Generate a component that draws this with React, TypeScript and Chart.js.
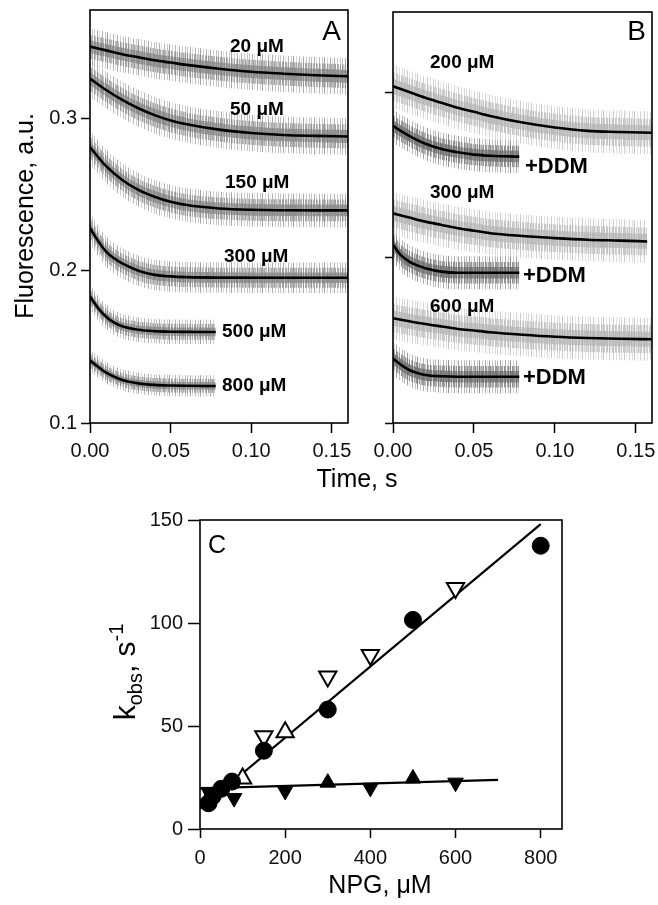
import React, { useEffect, useRef } from 'react';
import { Chart, registerables } from 'chart.js';

Chart.register(...registerables);

const FAMILY = '"Liberation Sans", Arial, Helvetica, sans-serif';

// ---------- Panels A & B: time grids (s) ----------
const T_LONG = [0, 0.01, 0.02, 0.03, 0.04, 0.05, 0.06, 0.08, 0.1, 0.12, 0.14, 0.16];
const T_FAST = [0, 0.005, 0.01, 0.015, 0.02, 0.03, 0.04, 0.05, 0.06, 0.08, 0.12, 0.16];
const T_LONG_B300 = [0, 0.01, 0.02, 0.03, 0.04, 0.05, 0.06, 0.08, 0.1, 0.12, 0.14, 0.157];
const T_SHORT = [0, 0.005, 0.01, 0.015, 0.02, 0.03, 0.04, 0.05, 0.06, 0.078];

// Panel A fitted curves (fluorescence, a.u.)
const A_FIT_20 = [0.347, 0.3445, 0.342, 0.34, 0.338, 0.3365, 0.335, 0.3325, 0.3305, 0.3292, 0.3282, 0.3275];
const A_FIT_50 = [0.326, 0.3185, 0.312, 0.3065, 0.302, 0.2985, 0.296, 0.2925, 0.2903, 0.289, 0.2884, 0.288];
const A_FIT_150 = [0.281, 0.2685, 0.2595, 0.253, 0.2485, 0.2452, 0.243, 0.2408, 0.2399, 0.2396, 0.2395, 0.2395];
const A_FIT_300 = [0.228, 0.2195, 0.2125, 0.208, 0.2047, 0.1999, 0.1972, 0.1962, 0.1957, 0.1954, 0.1953, 0.1953];
const A_FIT_500 = [0.183, 0.1755, 0.1697, 0.1658, 0.1635, 0.1612, 0.1603, 0.1599, 0.1598, 0.1597];
const A_FIT_800 = [0.141, 0.1369, 0.133, 0.1304, 0.1282, 0.126, 0.125, 0.1246, 0.1244, 0.1243];
// half-width of the noisy recorded trace around each fit
const A_NOISE = [0.012, 0.012, 0.011, 0.01, 0.008, 0.007];
const A_LABELS = ['20 μM', '50 μM', '150 μM', '300 μM', '500 μM', '800 μM'];

// Panel B fitted curves (arbitrary fluorescence units, own scale)
const B_FIT_200 = [0.304, 0.3005, 0.297, 0.294, 0.291, 0.2885, 0.286, 0.282, 0.279, 0.277, 0.2763, 0.2758];
const B_FIT_200_DDM = [0.28, 0.2768, 0.274, 0.2714, 0.2692, 0.266, 0.264, 0.2626, 0.2619, 0.2614];
const B_FIT_300 = [0.227, 0.2245, 0.222, 0.22, 0.218, 0.2165, 0.215, 0.2133, 0.212, 0.211, 0.2105, 0.21];
const B_FIT_300_DDM = [0.208, 0.2015, 0.1978, 0.1955, 0.1938, 0.1917, 0.191, 0.191, 0.191, 0.191];
const B_FIT_600 = [0.1635, 0.1617, 0.16, 0.1585, 0.157, 0.156, 0.155, 0.1535, 0.1523, 0.1515, 0.151, 0.1507];
const B_FIT_600_DDM = [0.139, 0.1352, 0.1321, 0.1303, 0.1291, 0.1283, 0.128, 0.128, 0.128, 0.128];
const B_NOISE_LIGHT = 0.013;
const B_NOISE_DARK = 0.01;
const B_LABELS = ['200 μM', '300 μM', '600 μM'];
const DDM_LABEL = '+DDM';

const TIME_TICKS = [0, 0.05, 0.1, 0.15];
const A_Y_TICKS = [0.1, 0.2, 0.3];
const B_Y_TICKS = [0.1, 0.2, 0.3];

// ---------- Panel C: kobs vs NPG ----------
const C_CIRCLE_X = [20, 30, 50, 75, 150, 300, 500, 800];
const C_CIRCLE_Y = [12.5, 16, 19.5, 23, 38, 58, 101.5, 137.5];
const C_OPEN_DOWN_X = [150, 300, 400, 600];
const C_OPEN_DOWN_Y = [45, 74, 84.5, 117];
const C_OPEN_UP_X = [100, 200];
const C_OPEN_UP_Y = [24.5, 47];
const C_FILLED_UP_X = [300, 500];
const C_FILLED_UP_Y = [22.5, 24.5];
const C_FILLED_DOWN_X = [20, 80, 200, 400, 600];
const C_FILLED_DOWN_Y = [18, 15, 18.5, 20, 22.5];
const C_FIT_HIGH_X = [0, 800];
const C_FIT_HIGH_Y = [9.7, 148];
const C_FIT_LOW_X = [0, 700];
const C_FIT_LOW_Y = [19.7, 23.8];
const C_X_TICKS = [0, 200, 400, 600, 800];
const C_Y_TICKS = [0, 50, 100, 150];

// texture of the noisy traces (style only): per-column opacity for three nested bands
const TEX_OUTER = [0, 0.6, 0, 0, 0.8, 0, 0.3, 0, 0, 0.7, 0, 0, 0.5, 0, 0.9, 0, 0, 0.4, 0, 0, 0.7, 0, 0.2, 0, 0.8, 0, 0, 0.5, 0, 0, 0.6];
const TEX_MID = [0.7, 0.2, 0.9, 0, 0.6, 0.8, 0.1, 0.7, 0, 0.9, 0.5, 0.3, 0.8, 0, 0.6, 0.9, 0.2, 0.7, 0.4, 0, 0.8, 0.6, 0.1, 0.9, 0.5, 0, 0.7, 0.8, 0.3, 0.6, 0, 0.9, 0.4, 0.7, 0.2, 0.8, 0.5];
const TEX_INNER = [0.9, 0.7, 1, 0.6, 0.85, 0.95, 0.5, 0.8, 1, 0.65, 0.9, 0.75, 0.55, 1, 0.8, 0.7, 0.95, 0.6, 0.85, 1, 0.7, 0.9, 0.5, 0.8, 0.95, 0.65, 1, 0.75, 0.85, 0.6, 0.9, 1, 0.7, 0.8, 0.55, 0.95, 0.75, 0.9, 0.65, 1, 0.8];

function makePattern(tex: number[], gray: number, aMax: number): any {
  const c = document.createElement('canvas');
  c.width = tex.length;
  c.height = 4;
  const g = c.getContext('2d');
  if (!g) return `rgba(${gray},${gray},${gray},${aMax * 0.6})`;
  tex.forEach((s, i) => {
    g.fillStyle = `rgba(${gray},${gray},${gray},${s * aMax})`;
    g.fillRect(i, 0, 1, 4);
  });
  return g.createPattern(c, 'repeat');
}

type Tex = { outer: any; mid: any; inner: any };

function traceSets(xs: number[], fit: number[], w: number, tex: Tex) {
  const pts = (d: number) => xs.map((x, i) => ({ x, y: fit[i] + d }));
  const common = { pointRadius: 0, borderWidth: 0, cubicInterpolationMode: 'monotone' as const };
  return [
    { ...common, data: pts(w), fill: '+1', backgroundColor: tex.outer, order: 3 },
    { ...common, data: pts(-w), fill: false, order: 3 },
    { ...common, data: pts(w * 0.65), fill: '+1', backgroundColor: tex.mid, order: 2 },
    { ...common, data: pts(-w * 0.65), fill: false, order: 2 },
    { ...common, data: pts(w * 0.35), fill: '+1', backgroundColor: tex.inner, order: 1 },
    { ...common, data: pts(-w * 0.35), fill: false, order: 1 },
    {
      data: pts(0),
      borderColor: '#000',
      borderWidth: 2.6,
      pointRadius: 0,
      fill: false,
      order: 0,
      cubicInterpolationMode: 'monotone' as const,
    },
  ];
}

type TextSpec = {
  text?: string;
  parts?: { t: string; size: number; dy: number }[];
  x: number;
  y: number;
  size?: number;
  bold?: boolean;
  align?: CanvasTextAlign;
  baseline?: CanvasTextBaseline;
  rotate?: boolean;
};

function makeDecor(texts: TextSpec[]) {
  return {
    id: 'decor',
    afterDraw(chart: any) {
      const ctx: CanvasRenderingContext2D = chart.ctx;
      const a = chart.chartArea;
      ctx.save();
      ctx.strokeStyle = '#000';
      ctx.lineWidth = 1.6;
      ctx.strokeRect(a.left, a.top, a.right - a.left, a.bottom - a.top);
      ctx.fillStyle = '#000';
      for (const t of texts) {
        ctx.save();
        ctx.translate(t.x, t.y);
        if (t.rotate) ctx.rotate(-Math.PI / 2);
        if (t.parts) {
          let total = 0;
          for (const p of t.parts) {
            ctx.font = `${p.size}px ${FAMILY}`;
            total += ctx.measureText(p.t).width;
          }
          let cx = -total / 2;
          ctx.textAlign = 'left';
          ctx.textBaseline = 'alphabetic';
          for (const p of t.parts) {
            ctx.font = `${p.size}px ${FAMILY}`;
            ctx.fillText(p.t, cx, p.dy);
            cx += ctx.measureText(p.t).width;
          }
        } else {
          ctx.font = `${t.bold ? 'bold ' : ''}${t.size}px ${FAMILY}`;
          ctx.textAlign = t.align ?? 'left';
          ctx.textBaseline = t.baseline ?? 'alphabetic';
          ctx.fillText(t.text ?? '', 0, 0);
        }
        ctx.restore();
      }
      ctx.restore();
    },
  };
}

const tickFont = { family: FAMILY, size: 20 };

function axis(min: number, max: number, ticks: number[], fmt: (v: number) => string, tickLen: number, fit: (s: any) => void, pad: number) {
  return {
    type: 'linear' as const,
    min,
    max,
    afterBuildTicks: (s: any) => {
      s.ticks = ticks.map((v) => ({ value: v }));
    },
    afterFit: (s: any) => {
      fit(s);
      s.paddingLeft = 0;
      s.paddingRight = 0;
      s.paddingTop = 0;
      s.paddingBottom = 0;
    },
    ticks: {
      font: tickFont,
      color: '#111',
      padding: pad,
      maxRotation: 0,
      autoSkip: false,
      callback: (v: any) => fmt(Number(v)),
    },
    grid: { drawOnChartArea: false, drawTicks: true, tickLength: tickLen, tickColor: '#000', tickWidth: 1.5 },
    border: { display: false },
  };
}

const basePlugins = { legend: { display: false }, tooltip: { enabled: false } };

export default function App() {
  const refA = useRef<HTMLCanvasElement>(null);
  const refB = useRef<HTMLCanvasElement>(null);
  const refC = useRef<HTMLCanvasElement>(null);

  useEffect(() => {
    const charts: Chart[] = [];
    const texA: Tex = { outer: makePattern(TEX_OUTER, 135, 0.85), mid: makePattern(TEX_MID, 132, 0.85), inner: makePattern(TEX_INNER, 130, 0.85) };
    const texL: Tex = { outer: makePattern(TEX_OUTER, 185, 0.9), mid: makePattern(TEX_MID, 182, 0.9), inner: makePattern(TEX_INNER, 180, 0.85) };
    const texD: Tex = { outer: makePattern(TEX_OUTER, 115, 0.85), mid: makePattern(TEX_MID, 110, 0.85), inner: makePattern(TEX_INNER, 105, 0.85) };

    // ---- Panel A ----
    const aFits = [A_FIT_20, A_FIT_50, A_FIT_150, A_FIT_300, A_FIT_500, A_FIT_800];
    const aXs = [T_LONG, T_LONG, T_LONG, T_FAST, T_SHORT, T_SHORT];
    const aSets: any[] = [];
    aFits.forEach((f, i) => aSets.push(...traceSets(aXs[i], f, A_NOISE[i], texA)));
    const aLabelPos = [
      [230, 47],
      [230, 110],
      [225, 183],
      [224, 257],
      [222, 332],
      [222, 386],
    ];
    const aTexts: TextSpec[] = [
      { text: 'A', x: 341, y: 40, size: 28, align: 'right' },
      { text: 'Fluorescence, a.u.', x: 33, y: 216, size: 25, align: 'center', rotate: true },
      ...A_LABELS.map((t, i) => ({ text: t, x: aLabelPos[i][0], y: aLabelPos[i][1], size: 19, bold: true, baseline: 'middle' as CanvasTextBaseline })),
    ];
    if (refA.current) {
      charts.push(
        new Chart(refA.current, {
          type: 'line',
          data: { datasets: aSets },
          options: {
            responsive: false,
            animation: false,
            layout: { padding: { left: 0, top: 10, right: 310, bottom: 442 } },
            scales: {
              x: axis(0, 0.16, TIME_TICKS, (v) => v.toFixed(2), 10, (s) => { s.height = 40; }, 6),
              y: axis(0.1, 0.371, A_Y_TICKS, (v) => v.toFixed(1), 9, (s) => { s.width = 90; }, 4),
            },
            plugins: basePlugins,
          } as any,
          plugins: [makeDecor(aTexts)],
        })
      );
    }

    // ---- Panel B ----
    const bSets: any[] = [
      ...traceSets(T_LONG, B_FIT_200, B_NOISE_LIGHT, texL),
      ...traceSets(T_SHORT, B_FIT_200_DDM, B_NOISE_DARK, texD),
      ...traceSets(T_LONG_B300, B_FIT_300, B_NOISE_LIGHT, texL),
      ...traceSets(T_SHORT, B_FIT_300_DDM, B_NOISE_DARK, texD),
      ...traceSets(T_LONG, B_FIT_600, B_NOISE_LIGHT, texL),
      ...traceSets(T_SHORT, B_FIT_600_DDM, B_NOISE_DARK, texD),
    ];
    const bLabelY = [63, 193, 307];
    const bDdmPos = [
      [525, 167],
      [523, 276],
      [523, 378],
    ];
    const bTexts: TextSpec[] = [
      { text: 'B', x: 646, y: 40, size: 28, align: 'right' },
      { text: 'Time, s', x: 357, y: 487, size: 25, align: 'center' },
      ...B_LABELS.map((t, i) => ({ text: t, x: 430, y: bLabelY[i], size: 19, bold: true, baseline: 'middle' as CanvasTextBaseline })),
      ...bDdmPos.map((p) => ({ text: DDM_LABEL, x: p[0], y: p[1], size: 22, bold: true, baseline: 'middle' as CanvasTextBaseline })),
    ];
    if (refB.current) {
      charts.push(
        new Chart(refB.current, {
          type: 'line',
          data: { datasets: bSets },
          options: {
            responsive: false,
            animation: false,
            layout: { padding: { left: 373, top: 12, right: 6, bottom: 442 } },
            scales: {
              x: axis(0, 0.16, TIME_TICKS, (v) => v.toFixed(2), 10, (s) => { s.height = 40; }, 6),
              y: axis(0.1, 0.349, B_Y_TICKS, () => '', 8, (s) => { s.width = 20; }, 0),
            },
            plugins: basePlugins,
          } as any,
          plugins: [makeDecor(bTexts)],
        })
      );
    }

    // ---- Panel C ----
    const xy = (xs: number[], ys: number[]) => xs.map((x, i) => ({ x, y: ys[i] }));
    const cTexts: TextSpec[] = [
      { text: 'C', x: 208, y: 553, size: 25 },
      { text: 'NPG, μM', x: 380, y: 893, size: 25, align: 'center' },
      {
        parts: [
          { t: 'k', size: 30, dy: 0 },
          { t: 'obs', size: 20, dy: 7 },
          { t: ', s', size: 30, dy: 0 },
          { t: '-1', size: 20, dy: -12 },
        ],
        x: 135,
        y: 672,
        rotate: true,
      },
    ];
    if (refC.current) {
      charts.push(
        new Chart(refC.current, {
          type: 'scatter',
          data: {
            datasets: [
              { data: xy(C_CIRCLE_X, C_CIRCLE_Y), pointStyle: 'circle', pointRadius: 8.5, backgroundColor: '#000', borderColor: '#000', borderWidth: 1, order: 0 },
              { data: xy(C_OPEN_DOWN_X, C_OPEN_DOWN_Y), pointStyle: 'triangle', rotation: 180, pointRadius: 10, backgroundColor: '#fff', borderColor: '#000', borderWidth: 2, order: 0 },
              { data: xy(C_OPEN_UP_X, C_OPEN_UP_Y), pointStyle: 'triangle', rotation: 0, pointRadius: 10, backgroundColor: '#fff', borderColor: '#000', borderWidth: 2, order: 0 },
              { data: xy(C_FILLED_UP_X, C_FILLED_UP_Y), pointStyle: 'triangle', rotation: 0, pointRadius: 9, backgroundColor: '#000', borderColor: '#000', borderWidth: 1, order: 0 },
              { data: xy(C_FILLED_DOWN_X, C_FILLED_DOWN_Y), pointStyle: 'triangle', rotation: 180, pointRadius: 9, backgroundColor: '#000', borderColor: '#000', borderWidth: 1, order: 0 },
              { data: xy(C_FIT_HIGH_X, C_FIT_HIGH_Y), showLine: true, pointRadius: 0, borderColor: '#000', borderWidth: 2.2, order: 1 },
              { data: xy(C_FIT_LOW_X, C_FIT_LOW_Y), showLine: true, pointRadius: 0, borderColor: '#000', borderWidth: 2.2, order: 1 },
            ],
          },
          options: {
            responsive: false,
            animation: false,
            layout: { padding: { left: 140, top: 520, right: 96, bottom: 36 } },
            scales: {
              x: axis(0, 850, C_X_TICKS, (v) => String(v), 9, (s) => { s.height = 40; }, 8),
              y: axis(0, 150, C_Y_TICKS, (v) => String(v), 12, (s) => { s.width = 60; }, 5),
            },
            plugins: basePlugins,
          } as any,
          plugins: [makeDecor(cTexts)],
        })
      );
    }

    return () => charts.forEach((c) => c.destroy());
  }, []);

  const cv: React.CSSProperties = { position: 'absolute', left: 0, top: 0 };
  return (
    <div style={{ position: 'absolute', left: 0, top: 0, width: 658, height: 905, background: '#fff', overflow: 'hidden' }}>
      <canvas ref={refA} width={658} height={905} style={cv} />
      <canvas ref={refB} width={658} height={905} style={cv} />
      <canvas ref={refC} width={658} height={905} style={cv} />
    </div>
  );
}
